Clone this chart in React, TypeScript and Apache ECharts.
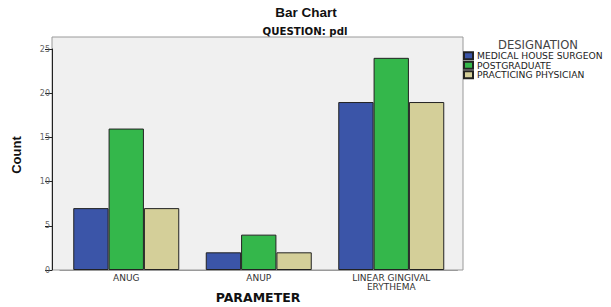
import React, { useEffect, useRef } from "react";
import * as echarts from "echarts";

const categories = ["ANUG", "ANUP", "LINEAR GINGIVAL\nERYTHEMA"];
const seriesNames = ["MEDICAL HOUSE SURGEON", "POSTGRADUATE", "PRACTICING PHYSICIAN"];
const medicalHouseSurgeon = [7, 2, 19];
const postgraduate = [16, 4, 24];
const practicingPhysician = [7, 2, 19];
const seriesColors = ["#3b55a8", "#34b74b", "#d4cf99"];

export default function App() {
  const ref = useRef<HTMLDivElement>(null);
  useEffect(() => {
    if (!ref.current) return;
    const chart = echarts.init(ref.current, undefined, { renderer: "svg" });
    const values = [medicalHouseSurgeon, postgraduate, practicingPhysician];
    const font = "Liberation Sans, Arial, sans-serif";
    const wide = "DejaVu Sans, sans-serif";
    chart.setOption({
      animation: false,
      textStyle: { fontFamily: wide },
      graphic: [
        {
          type: "rect",
          z: -10,
          shape: { x: 52, y: 37, width: 411, height: 233 },
          style: { fill: "#f0f0f0", stroke: "#9a9a9a", lineWidth: 1 },
          silent: true,
        },
        {
          type: "text",
          x: 306,
          y: 12,
          style: { text: "Bar Chart", fontSize: 13.5, fontWeight: "bold", fill: "#111", align: "center", verticalAlign: "middle", fontFamily: font },
        },
        {
          type: "text",
          x: 305,
          y: 31,
          style: { text: "QUESTION: pdl", fontSize: 10.2, fontWeight: "bold", fill: "#111", align: "center", verticalAlign: "middle", fontFamily: wide },
        },
        {
          type: "text",
          x: 16,
          y: 155,
          rotation: Math.PI / 2,
          style: { text: "Count", fontSize: 13, fontWeight: "bold", fill: "#111", align: "center", verticalAlign: "middle", fontFamily: font },
        },
        {
          type: "text",
          x: 258,
          y: 297,
          style: { text: "PARAMETER", fontSize: 12.5, fontWeight: "bold", fill: "#111", align: "center", verticalAlign: "middle", fontFamily: wide },
        },
        {
          type: "text",
          x: 538,
          y: 44.5,
          style: { text: "DESIGNATION", fontSize: 11.6, fill: "#444", align: "center", verticalAlign: "middle", fontFamily: wide },
        },
      ],
      legend: {
        orient: "vertical",
        left: 463,
        top: 51,
        itemWidth: 9,
        itemHeight: 7,
        itemGap: 0,
        icon: "rect",
        data: seriesNames,
        textStyle: { fontSize: 9.2, color: "#222", lineHeight: 9.5, padding: [0, 0, 0, -1], fontFamily: wide },
        padding: 0,
      },
      grid: { left: 60, right: 153.5, top: 49, bottom: 37 },
      xAxis: {
        type: "category",
        data: categories,
        axisLine: { lineStyle: { color: "#9a9a9a" } },
        axisTick: { alignWithLabel: true, length: 4, lineStyle: { color: "#333" } },
        axisLabel: { fontSize: 9, color: "#333", margin: 4, lineHeight: 8.5, fontFamily: wide },
      },
      yAxis: {
        type: "value",
        min: 0,
        max: 25,
        interval: 5,
        offset: 8,
        splitLine: { show: false },
        axisLine: { show: true, lineStyle: { color: "#222" } },
        axisTick: { show: true, length: 7, lineStyle: { color: "#222" } },
        axisLabel: { fontSize: 8, color: "#666", margin: 2, fontFamily: wide },
      },
      series: seriesNames.map((name, i) => ({
        name,
        type: "bar",
        data: values[i],
        barGap: "0%",
        barCategoryGap: "20%",
        itemStyle: { color: seriesColors[i], borderColor: "#222", borderWidth: 1 },
      })),
    });
    return () => chart.dispose();
  }, []);
  return <div ref={ref} style={{ position: "absolute", left: 0, top: 0, width: 611, height: 307 }} />;
}
